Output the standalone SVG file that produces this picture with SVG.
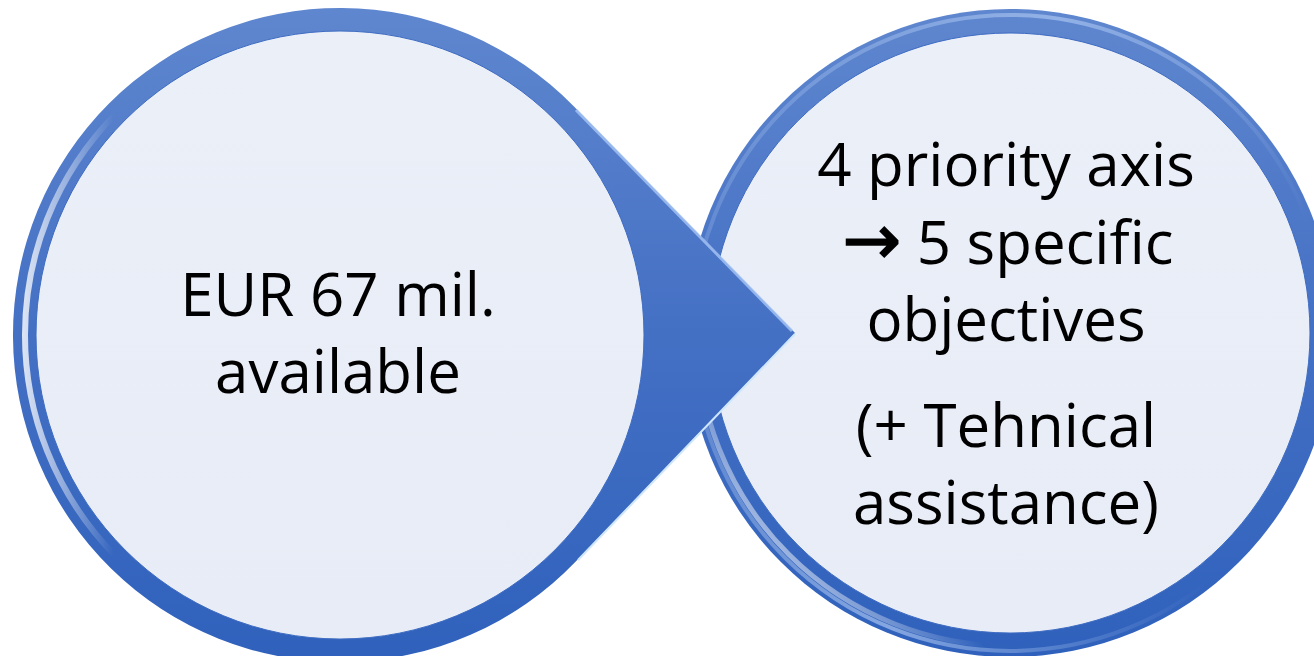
<svg xmlns="http://www.w3.org/2000/svg" width="1314" height="656" viewBox="0 0 1314 656">
  <defs>
    <linearGradient id="ringGrad" x1="0" y1="0" x2="0" y2="1">
      <stop offset="0" stop-color="#5F87CF"/>
      <stop offset="0.5" stop-color="#4470C4"/>
      <stop offset="1" stop-color="#2F61BC"/>
    </linearGradient>
    <linearGradient id="innerGrad" x1="0" y1="0" x2="0" y2="1">
      <stop offset="0" stop-color="#EBEFF8"/>
      <stop offset="1" stop-color="#E7ECF6"/>
    </linearGradient>
    <linearGradient id="hlLeft" gradientUnits="userSpaceOnUse" x1="13" y1="335" x2="300" y2="335">
      <stop offset="0" stop-color="#FFFFFF" stop-opacity="0.9"/>
      <stop offset="0.35" stop-color="#FFFFFF" stop-opacity="0"/>
    </linearGradient>
    <linearGradient id="hlRight" gradientUnits="userSpaceOnUse" x1="700" y1="560" x2="1000" y2="300">
      <stop offset="0" stop-color="#FFFFFF" stop-opacity="0.9"/>
      <stop offset="0.4" stop-color="#FFFFFF" stop-opacity="0"/>
    </linearGradient>
    <linearGradient id="hlTop" gradientUnits="userSpaceOnUse" x1="600" y1="0" x2="1314" y2="200">
      <stop offset="0" stop-color="#A9C4F0" stop-opacity="0"/>
      <stop offset="0.6" stop-color="#A9C4F0" stop-opacity="0.7"/>
      <stop offset="1" stop-color="#A9C4F0" stop-opacity="0"/>
    </linearGradient>
  </defs>
  <style>
    .ring { fill: url(#ringGrad); }
    .inner { fill: url(#innerGrad); }
    .label { font-family: "Open Sans", "Noto Sans", "DejaVu Sans", sans-serif; font-size: 60px; fill: #000000; text-anchor: middle; }
    .arrow { font-family: "DejaVu Sans", sans-serif; font-size: 70px; stroke: #000000; stroke-width: 1.5; }
  </style>

  <g id="node-right">
    <circle class="ring" cx="1010" cy="333" r="324"/>
    <circle cx="1010" cy="333" r="313" fill="none" stroke="url(#hlRight)" stroke-width="5"/>
    <circle cx="1010" cy="333" r="318" fill="none" stroke="url(#hlTop)" stroke-width="4"/>
    <circle class="inner" cx="1010" cy="333" r="300" stroke="#3E6CC2" stroke-width="1"/>
    <text class="label" x="1006" y="186">4 priority axis</text>
    <text class="label" x="1008" y="264"><tspan class="arrow">→</tspan> 5 specific</text>
    <text class="label" x="1006" y="341">objectives</text>
    <text class="label" x="1006" y="447">(+ Tehnical</text>
    <text class="label" x="1006" y="524">assistance)</text>
  </g>

  <g id="node-left">
    <path class="ring" d="M574,106.6 L795,333 L576,561.3 A327,327 0 1 1 574,106.6 Z"/>
    <path d="M576,110 L792,331" fill="none" stroke="#A8C6F5" stroke-width="3" opacity="0.8"/>
    <path d="M795,334 L578,560" fill="none" stroke="#CFE6FF" stroke-width="2"/>
    <circle cx="340" cy="335" r="315" fill="none" stroke="url(#hlLeft)" stroke-width="6"/>
    <circle class="inner" cx="340" cy="335" r="304" stroke="#3E6CC2" stroke-width="1"/>
    <text class="label" x="338" y="316">EUR 67 mil.</text>
    <text class="label" x="338" y="393">available</text>
  </g>
</svg>
